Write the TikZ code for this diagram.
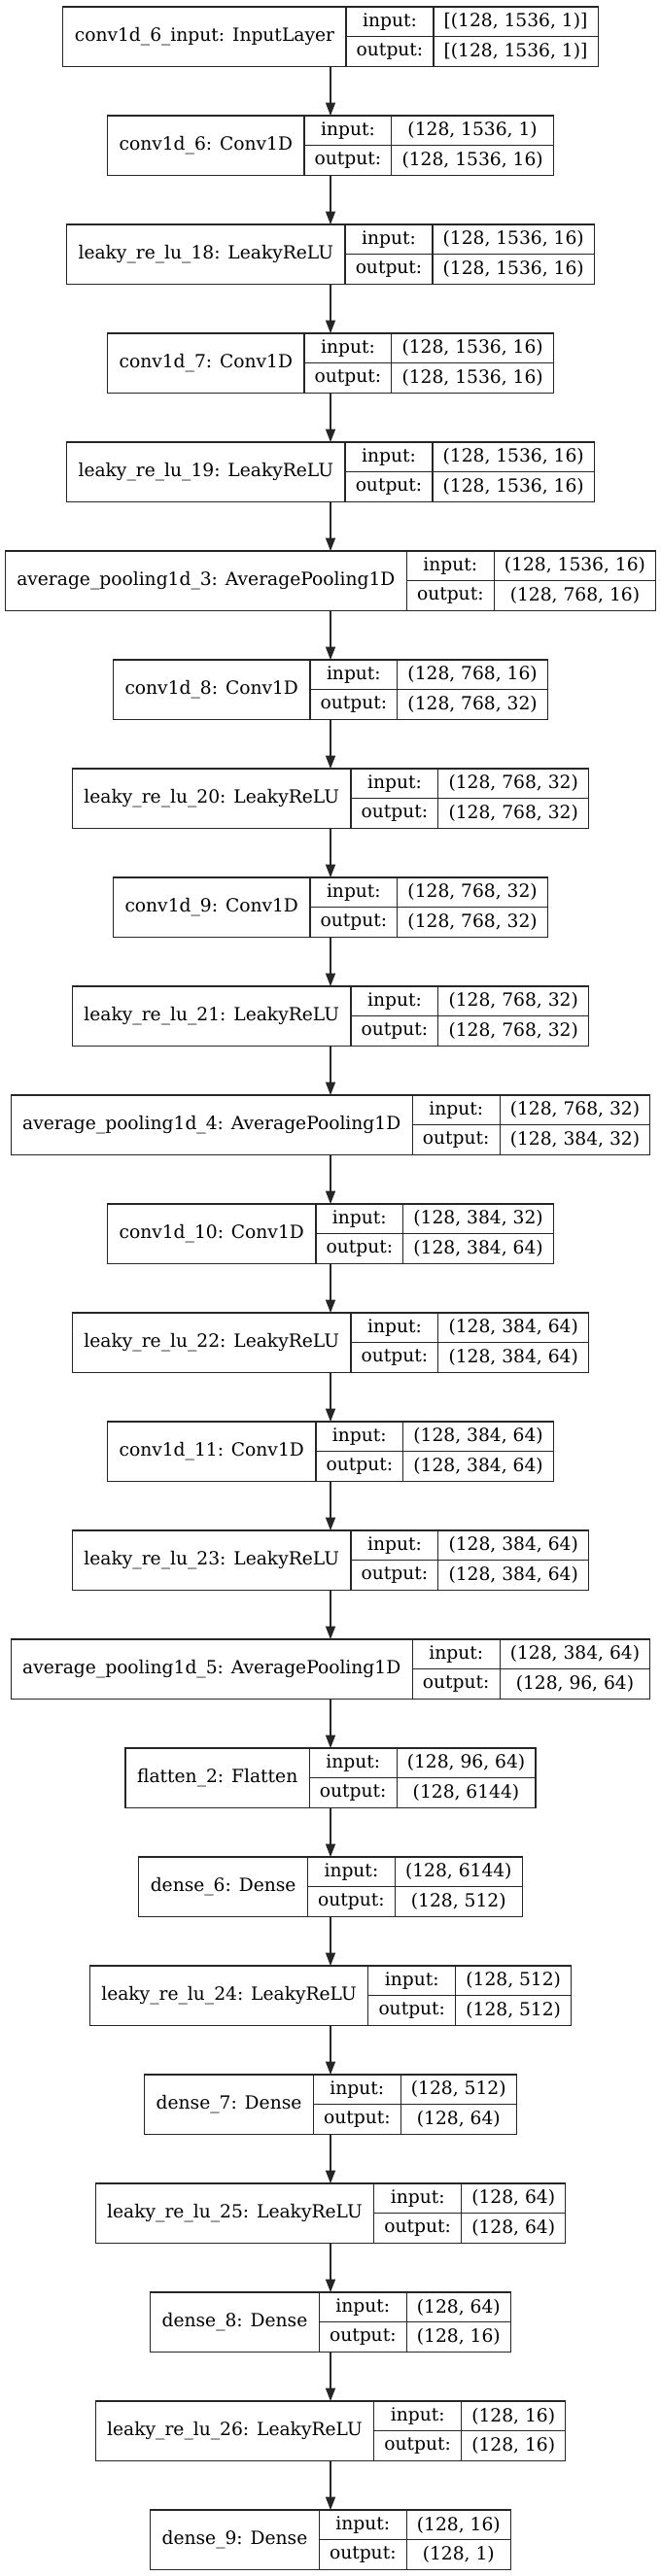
\documentclass[tikz,border=0pt]{standalone}
\usepackage{fontspec}
\usetikzlibrary{arrows.meta}
\newfontfamily\recfont{DejaVu Serif}

\begin{document}
\begin{tikzpicture}[
  rec/.style={minimum height=46pt, inner sep=0pt, outer sep=0pt},
  cell/.style={draw=black!85, line width=0.9pt, inner sep=0pt, outer sep=0pt, font=\Recfont},
  edge/.style={-{Triangle[length=10pt, width=7.5pt]}, draw=black!85, fill=black!85, line width=0.9pt}
]
\newcommand{\Recfont}{\fontsize{14pt}{16pt}\selectfont\recfont}
\newcommand{\Cx}{255pt} % centre line of all records
\newcommand{\Dy}{84pt}  % record pitch
\newlength{\Lw}\newlength{\Cw}\newlength{\Vw}\newlength{\Tw}
% measure a text outside the picture's null font
\newcommand{\Measure}[2]{\pgfinterruptpicture\settowidth{#1}{\Recfont #2}\global#1=#1\endpgfinterruptpicture}
\Measure{\Cw}{output:}\addtolength{\Cw}{16pt}

% one record: name, layer text, input shape, output shape, row
\newcommand{\Layer}[5]{%
  \Measure{\Lw}{#2}\addtolength{\Lw}{18pt}%
  \Measure{\Vw}{#3}\Measure{\Tw}{#4}%
  \ifdim\Tw>\Vw \setlength{\Vw}{\Tw}\fi
  \addtolength{\Vw}{16pt}%
  \setlength{\Tw}{\dimexpr\Lw+\Cw+\Vw\relax}%
  \node[rec, minimum width=\Tw] (#1) at (\Cx, -28.25pt-#5*\Dy) {};
  \node[cell, minimum width=\Lw, minimum height=46pt, anchor=west] (#1-lay) at (#1.west) {#2};
  \node[cell, minimum width=\Cw, minimum height=23pt, anchor=north west] (#1-il) at (#1-lay.north east) {input:};
  \node[cell, minimum width=\Cw, minimum height=23pt, anchor=north west] (#1-ol) at (#1-il.south west) {output:};
  \node[cell, minimum width=\Vw, minimum height=23pt, anchor=north west] (#1-iv) at (#1-il.north east) {#3};
  \node[cell, minimum width=\Vw, minimum height=23pt, anchor=north west] (#1-ov) at (#1-ol.north east) {#4};
}

\fill[white] (0,0) rectangle (510pt,-1988.25pt);
\useasboundingbox (0,0) rectangle (510pt,-1988.25pt);

% records
\Layer{inp}{conv1d\_6\_input: InputLayer}{[(128, 1536, 1)]}{[(128, 1536, 1)]}{0}
\Layer{c6}{conv1d\_6: Conv1D}{(128, 1536, 1)}{(128, 1536, 16)}{1}
\Layer{lr18}{leaky\_re\_lu\_18: LeakyReLU}{(128, 1536, 16)}{(128, 1536, 16)}{2}
\Layer{c7}{conv1d\_7: Conv1D}{(128, 1536, 16)}{(128, 1536, 16)}{3}
\Layer{lr19}{leaky\_re\_lu\_19: LeakyReLU}{(128, 1536, 16)}{(128, 1536, 16)}{4}
\Layer{ap3}{average\_pooling1d\_3: AveragePooling1D}{(128, 1536, 16)}{(128, 768, 16)}{5}
\Layer{c8}{conv1d\_8: Conv1D}{(128, 768, 16)}{(128, 768, 32)}{6}
\Layer{lr20}{leaky\_re\_lu\_20: LeakyReLU}{(128, 768, 32)}{(128, 768, 32)}{7}
\Layer{c9}{conv1d\_9: Conv1D}{(128, 768, 32)}{(128, 768, 32)}{8}
\Layer{lr21}{leaky\_re\_lu\_21: LeakyReLU}{(128, 768, 32)}{(128, 768, 32)}{9}
\Layer{ap4}{average\_pooling1d\_4: AveragePooling1D}{(128, 768, 32)}{(128, 384, 32)}{10}
\Layer{c10}{conv1d\_10: Conv1D}{(128, 384, 32)}{(128, 384, 64)}{11}
\Layer{lr22}{leaky\_re\_lu\_22: LeakyReLU}{(128, 384, 64)}{(128, 384, 64)}{12}
\Layer{c11}{conv1d\_11: Conv1D}{(128, 384, 64)}{(128, 384, 64)}{13}
\Layer{lr23}{leaky\_re\_lu\_23: LeakyReLU}{(128, 384, 64)}{(128, 384, 64)}{14}
\Layer{ap5}{average\_pooling1d\_5: AveragePooling1D}{(128, 384, 64)}{(128, 96, 64)}{15}
\Layer{fl2}{flatten\_2: Flatten}{(128, 96, 64)}{(128, 6144)}{16}
\Layer{d6}{dense\_6: Dense}{(128, 6144)}{(128, 512)}{17}
\Layer{lr24}{leaky\_re\_lu\_24: LeakyReLU}{(128, 512)}{(128, 512)}{18}
\Layer{d7}{dense\_7: Dense}{(128, 512)}{(128, 64)}{19}
\Layer{lr25}{leaky\_re\_lu\_25: LeakyReLU}{(128, 64)}{(128, 64)}{20}
\Layer{d8}{dense\_8: Dense}{(128, 64)}{(128, 16)}{21}
\Layer{lr26}{leaky\_re\_lu\_26: LeakyReLU}{(128, 16)}{(128, 16)}{22}
\Layer{d9}{dense\_9: Dense}{(128, 16)}{(128, 1)}{23}

% edges
\draw[edge] (inp.south) -- (c6.north);
\draw[edge] (c6.south) -- (lr18.north);
\draw[edge] (lr18.south) -- (c7.north);
\draw[edge] (c7.south) -- (lr19.north);
\draw[edge] (lr19.south) -- (ap3.north);
\draw[edge] (ap3.south) -- (c8.north);
\draw[edge] (c8.south) -- (lr20.north);
\draw[edge] (lr20.south) -- (c9.north);
\draw[edge] (c9.south) -- (lr21.north);
\draw[edge] (lr21.south) -- (ap4.north);
\draw[edge] (ap4.south) -- (c10.north);
\draw[edge] (c10.south) -- (lr22.north);
\draw[edge] (lr22.south) -- (c11.north);
\draw[edge] (c11.south) -- (lr23.north);
\draw[edge] (lr23.south) -- (ap5.north);
\draw[edge] (ap5.south) -- (fl2.north);
\draw[edge] (fl2.south) -- (d6.north);
\draw[edge] (d6.south) -- (lr24.north);
\draw[edge] (lr24.south) -- (d7.north);
\draw[edge] (d7.south) -- (lr25.north);
\draw[edge] (lr25.south) -- (d8.north);
\draw[edge] (d8.south) -- (lr26.north);
\draw[edge] (lr26.south) -- (d9.north);
\end{tikzpicture}
\end{document}
